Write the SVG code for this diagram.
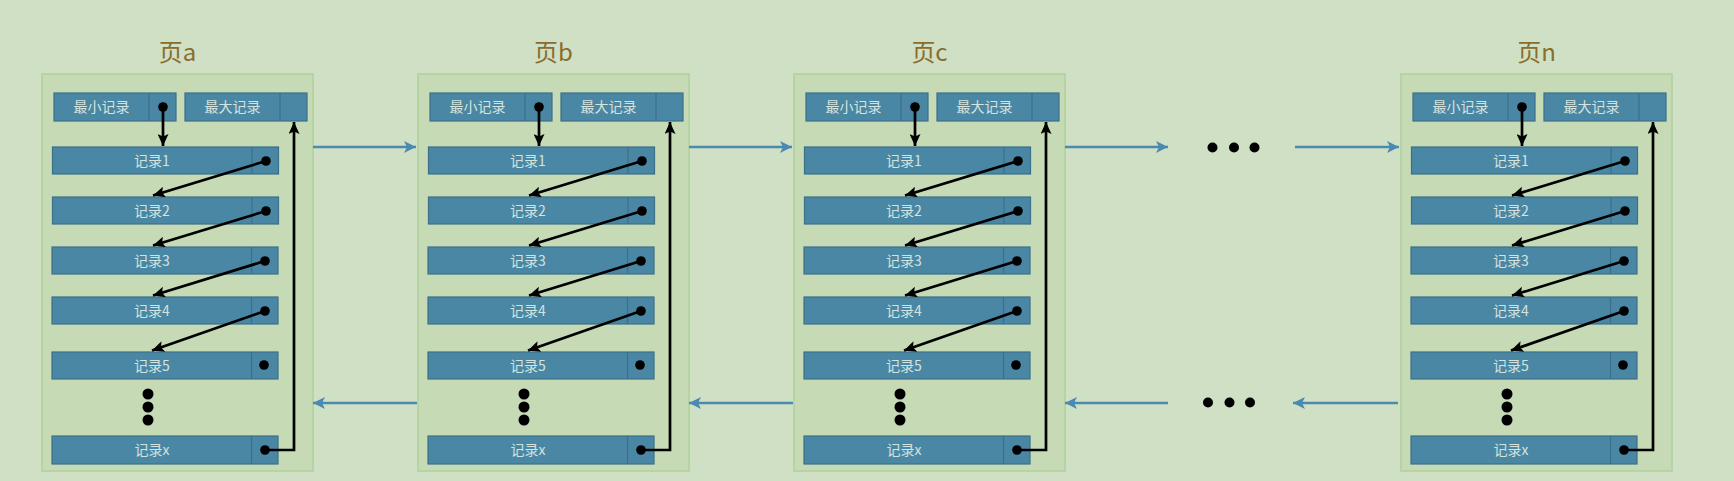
<svg xmlns="http://www.w3.org/2000/svg" width="1734" height="481" viewBox="0 0 1734 481">
<style>
.page{fill:#c5dab5;stroke:#b0d09c;stroke-width:1.5}
.title{font-family:"Noto Sans CJK SC","Noto Sans",sans-serif;font-size:24px;fill:#8a6c2c;text-anchor:middle}
.box{fill:#4a87a5;stroke:#3c7089;stroke-width:1.2}
.div{stroke:#3c7089;stroke-width:1.2}
.lbl{font-family:"Noto Sans CJK SC","Noto Sans",sans-serif;font-size:14px;fill:#d4e3dd;text-anchor:middle}
.dot{fill:#000}
.blk{fill:none;stroke:#000;stroke-width:2.7}
.blue{fill:none;stroke:#4b8ab0;stroke-width:2.5}
</style>
<defs>
<marker id="ah" markerUnits="userSpaceOnUse" markerWidth="13" markerHeight="11" refX="12" refY="5.5" orient="auto"><path d="M0,0 L12,5.5 L0,11 L2.5,5.5 z" fill="#000"/></marker>
<marker id="bh" markerUnits="userSpaceOnUse" markerWidth="13" markerHeight="12" refX="12" refY="6" orient="auto"><path d="M0,0 L12,6 L0,12 L3,6 z" fill="#4b8ab0"/></marker>
<g id="pagebody">
<rect class="page" x="0" y="74" width="271" height="397"/>
<g><rect class="box" x="12" y="93" width="122" height="28"/><line class="div" x1="107" y1="93" x2="107" y2="121"/><text class="lbl" x="59.5" y="112">最小记录</text><circle class="dot" cx="121" cy="107" r="4.8"/></g>
<g><rect class="box" x="143" y="93" width="122" height="28"/><line class="div" x1="238" y1="93" x2="238" y2="121"/><text class="lbl" x="190.5" y="112">最大记录</text></g>
<g><rect class="box" x="10.5" y="147" width="226" height="27"/><line class="div" x1="210" y1="147" x2="210" y2="174"/><text class="lbl" x="110" y="165.5">记录1</text><circle class="dot" cx="224" cy="161" r="4.8"/></g>
<g><rect class="box" x="10.5" y="197" width="226" height="27"/><line class="div" x1="210" y1="197" x2="210" y2="224"/><text class="lbl" x="110" y="215.5">记录2</text><circle class="dot" cx="224" cy="211" r="4.8"/></g>
<g><rect class="box" x="10" y="247" width="226" height="27"/><line class="div" x1="209.5" y1="247" x2="209.5" y2="274"/><text class="lbl" x="110" y="265.5">记录3</text><circle class="dot" cx="223" cy="261" r="4.8"/></g>
<g><rect class="box" x="10" y="297" width="226" height="27"/><line class="div" x1="209.5" y1="297" x2="209.5" y2="324"/><text class="lbl" x="110" y="315.5">记录4</text><circle class="dot" cx="223" cy="311" r="4.8"/></g>
<g><rect class="box" x="10" y="352" width="226" height="27"/><line class="div" x1="209.5" y1="352" x2="209.5" y2="379"/><text class="lbl" x="110" y="370.5">记录5</text><circle class="dot" cx="222" cy="365" r="4.8"/></g>
<circle class="dot" cx="106" cy="394" r="5.5"/><circle class="dot" cx="106" cy="407" r="5.5"/><circle class="dot" cx="106" cy="420" r="5.5"/>
<g><rect class="box" x="10" y="436" width="226" height="28"/><line class="div" x1="209.5" y1="436" x2="209.5" y2="464"/><text class="lbl" x="110" y="455">记录x</text><circle class="dot" cx="223" cy="450" r="4.8"/></g>
</g>
<g id="pagelinks">
<line class="blk" x1="121" y1="107" x2="121" y2="146" marker-end="url(#ah)"/>
<line class="blk" x1="224" y1="161" x2="111" y2="195.5" marker-end="url(#ah)"/>
<line class="blk" x1="224" y1="211" x2="111" y2="245.5" marker-end="url(#ah)"/>
<line class="blk" x1="223" y1="261" x2="111" y2="295.5" marker-end="url(#ah)"/>
<line class="blk" x1="223" y1="311" x2="110" y2="350.5" marker-end="url(#ah)"/>
<polyline class="blk" points="223,450 252,450 252,122" marker-end="url(#ah)"/>
</g>
</defs>
<rect x="0" y="0" width="1734" height="481" fill="#cfe0c4"/>
<g id="page-a" transform="translate(42,0)"><text class="title" x="135.5" y="61">页a</text><use href="#pagebody"/></g>
<g id="page-b" transform="translate(418,0)"><text class="title" x="135.5" y="61">页b</text><use href="#pagebody"/></g>
<g id="page-c" transform="translate(794,0)"><text class="title" x="135.5" y="61">页c</text><use href="#pagebody"/></g>
<g id="page-n" transform="translate(1401,0)"><text class="title" x="135.5" y="61">页n</text><use href="#pagebody"/></g>
<g id="ellipsis-top"><circle class="dot" cx="1212.5" cy="147.5" r="5"/><circle class="dot" cx="1234" cy="147.5" r="5"/><circle class="dot" cx="1254.5" cy="147.5" r="5"/></g>
<g id="ellipsis-bottom"><circle class="dot" cx="1208" cy="402.5" r="5"/><circle class="dot" cx="1229.5" cy="402.5" r="5"/><circle class="dot" cx="1250" cy="402.5" r="5"/></g>
<g id="connectors">
<use href="#pagelinks" transform="translate(42,0)"/>
<use href="#pagelinks" transform="translate(418,0)"/>
<use href="#pagelinks" transform="translate(794,0)"/>
<use href="#pagelinks" transform="translate(1401,0)"/>
<line class="blue" x1="313" y1="147" x2="416" y2="147" marker-end="url(#bh)"/>
<line class="blue" x1="689" y1="147" x2="792" y2="147" marker-end="url(#bh)"/>
<line class="blue" x1="1065" y1="147" x2="1168" y2="147" marker-end="url(#bh)"/>
<line class="blue" x1="1295" y1="147" x2="1399" y2="147" marker-end="url(#bh)"/>
<line class="blue" x1="417" y1="403" x2="313" y2="403" marker-end="url(#bh)"/>
<line class="blue" x1="793" y1="403" x2="689" y2="403" marker-end="url(#bh)"/>
<line class="blue" x1="1168" y1="403" x2="1065" y2="403" marker-end="url(#bh)"/>
<line class="blue" x1="1398" y1="403" x2="1293" y2="403" marker-end="url(#bh)"/>
</g>
</svg>
